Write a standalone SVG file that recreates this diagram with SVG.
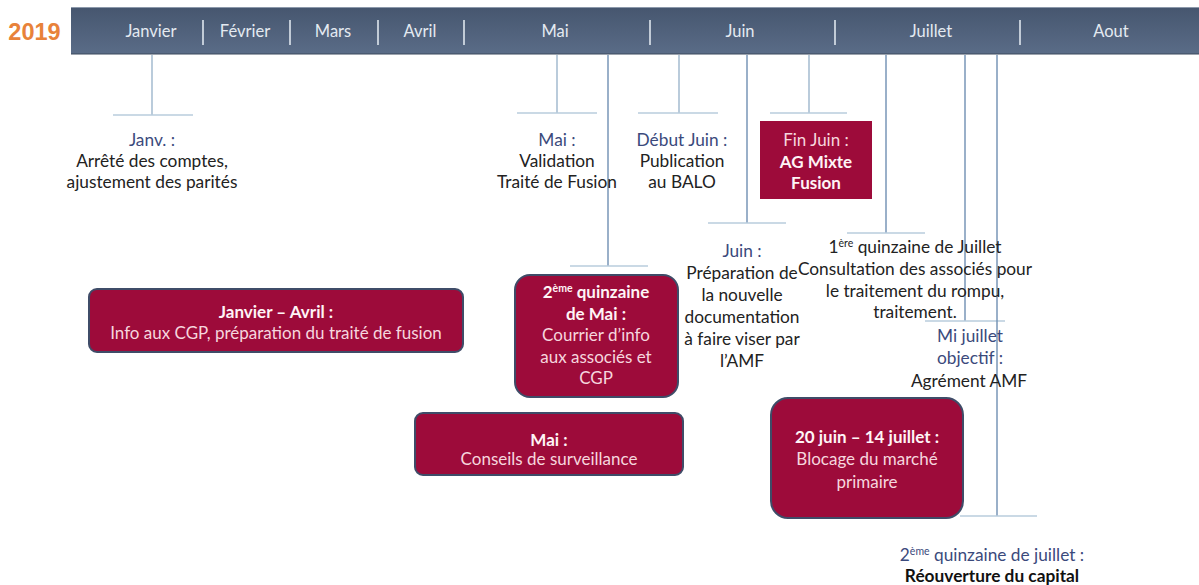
<svg xmlns="http://www.w3.org/2000/svg" width="1199" height="585" viewBox="0 0 1199 585">
<defs>
<linearGradient id="barg" x1="0" y1="0" x2="0" y2="1">
<stop offset="0" stop-color="#46566f"/>
<stop offset="1" stop-color="#5a6c87"/>
</linearGradient>
<style>
text{font-family:Lato,"Open Sans","Liberation Sans",sans-serif;text-anchor:middle}
.m{font-size:16.5px;fill:#e4eaf1}
.sep{stroke:#dfe6ee;stroke-width:1.6}
.t{font-size:17.3px;fill:#222}
.b{fill:#3b4a7c}
.bx{fill:#9d0b3a;stroke:#3f4c68;stroke-width:2}
.bt{font-size:17px;fill:#f6d6de}
.bw{font-weight:bold;fill:#fff4f6}
.v{stroke:#9db6cc;stroke-width:1.4;fill:none}
.h{stroke:#b9cddd;stroke-width:1.6;fill:none}
.vl{stroke:#6f8fb2;stroke-width:1.4;fill:none}
.k{font-weight:bold;fill:#111}
</style>
</defs>
<rect width="1199" height="585" fill="#ffffff"/>
<g id="header">
<text x="34.5" y="40" style="font-family:'Liberation Sans',sans-serif;font-weight:bold;font-size:23.5px;fill:#e8823a">2019</text>
<rect x="71" y="7" width="1128" height="47" fill="url(#barg)"/>
<line x1="71" y1="7.5" x2="1199" y2="7.5" stroke="#8c99ab" stroke-width="1"/>
<line x1="71" y1="54" x2="1199" y2="54" stroke="#3b485c" stroke-width="1.2"/>
<text class="m" x="151" y="37">Janvier</text>
<text class="m" x="245" y="37">Février</text>
<text class="m" x="333" y="37">Mars</text>
<text class="m" x="420" y="37">Avril</text>
<text class="m" x="555" y="37">Mai</text>
<text class="m" x="740" y="37">Juin</text>
<text class="m" x="931" y="37">Juillet</text>
<text class="m" x="1111" y="37">Aout</text>
<line class="sep" x1="203" y1="20" x2="203" y2="45"/>
<line class="sep" x1="290" y1="20" x2="290" y2="45"/>
<line class="sep" x1="378" y1="20" x2="378" y2="45"/>
<line class="sep" x1="464" y1="20" x2="464" y2="45"/>
<line class="sep" x1="650" y1="20" x2="650" y2="45"/>
<line class="sep" x1="835" y1="20" x2="835" y2="45"/>
<line class="sep" x1="1020" y1="20" x2="1020" y2="45"/>
</g>
<g id="connectors">
<path class="v" d="M152 55V115"/><path class="h" d="M113 115H193"/>
<path class="v" d="M557 55V113"/><path class="h" d="M517 113H597"/>
<path class="vl" d="M608 55V266"/><path class="h" d="M570 266H648"/>
<path class="v" d="M679 55V113"/><path class="h" d="M638 113H718"/>
<path class="vl" d="M747 55V223"/><path class="h" d="M708 223H786"/>
<path class="v" d="M809 55V113"/><path class="h" d="M770 113H847"/>
<path class="vl" d="M886 55V233"/><path class="h" d="M847 233H925"/>
<path class="vl" d="M965 55V321"/><path class="h" d="M925 321H1005"/>
<path class="vl" d="M997 55V516"/><path class="h" d="M960 516H1037"/>
</g>
<g id="janv">
<text class="t b" x="152" y="146">Janv. :</text>
<text class="t" x="152" y="167">Arrêté des comptes,</text>
<text class="t" x="152" y="188">ajustement des parités</text>
</g>
<g id="mai-validation">
<text class="t b" x="557" y="146">Mai :</text>
<text class="t" x="557" y="167">Validation</text>
<text class="t" x="557" y="188">Traité de Fusion</text>
</g>
<g id="debut-juin">
<text class="t b" x="682" y="146">Début Juin :</text>
<text class="t" x="682" y="167">Publication</text>
<text class="t" x="682" y="188">au BALO</text>
</g>
<g id="fin-juin">
<rect x="760" y="121" width="112" height="78" fill="#9d0b3a"/>
<text class="bt" x="816" y="146">Fin Juin :</text>
<text class="bt bw" x="816" y="168">AG Mixte</text>
<text class="bt bw" x="816" y="189">Fusion</text>
</g>
<g id="juin">
<text class="t b" x="742" y="257">Juin :</text>
<text class="t" x="742" y="279">Préparation de</text>
<text class="t" x="742" y="301">la nouvelle</text>
<text class="t" x="742" y="323">documentation</text>
<text class="t" x="742" y="345">à faire viser par</text>
<text class="t" x="742" y="367">l’AMF</text>
</g>
<g id="quinzaine-juillet">
<text class="t" x="915" y="253">1<tspan font-size="10.5" dy="-6">ère</tspan><tspan dy="6"> quinzaine de Juillet</tspan></text>
<text class="t" x="915" y="275">Consultation des associés pour</text>
<text class="t" x="915" y="297">le traitement du rompu,</text>
<text class="t" x="915" y="318">traitement.</text>
</g>
<g id="mi-juillet">
<text class="t b" x="970" y="342">Mi juillet</text>
<text class="t b" x="970" y="364">objectif :</text>
<text class="t" x="969" y="387">Agrément AMF</text>
</g>
<g id="janvier-avril">
<rect class="bx" x="89" y="289" width="374" height="63" rx="8"/>
<text class="bt bw" x="276" y="318">Janvier – Avril :</text>
<text class="bt" x="276" y="339">Info aux CGP, préparation du traité de fusion</text>
</g>
<g id="quinzaine-mai">
<rect class="bx" x="515" y="275" width="163" height="122" rx="15"/>
<text class="bt bw" x="596" y="298">2<tspan font-size="10.5" dy="-6">ème</tspan><tspan dy="6"> quinzaine</tspan></text>
<text class="bt bw" x="596" y="320">de Mai :</text>
<text class="bt" x="596" y="341">Courrier d’info</text>
<text class="bt" x="596" y="363">aux associés et</text>
<text class="bt" x="596" y="384">CGP</text>
</g>
<g id="mai-conseils">
<rect class="bx" x="415" y="413" width="268" height="62" rx="8"/>
<text class="bt bw" x="549" y="446">Mai :</text>
<text class="bt" x="549" y="465">Conseils de surveillance</text>
</g>
<g id="blocage">
<rect class="bx" x="771" y="398" width="192" height="120" rx="17"/>
<text class="bt bw" x="867" y="443">20 juin – 14 juillet :</text>
<text class="bt" x="867" y="465">Blocage du marché</text>
<text class="bt" x="867" y="488">primaire</text>
</g>
<g id="reouverture">
<text class="t b" x="992" y="561">2<tspan font-size="10.5" dy="-6">ème</tspan><tspan dy="6"> quinzaine de juillet :</tspan></text>
<text class="t k" x="992" y="582">Réouverture du capital</text>
</g>
</svg>
